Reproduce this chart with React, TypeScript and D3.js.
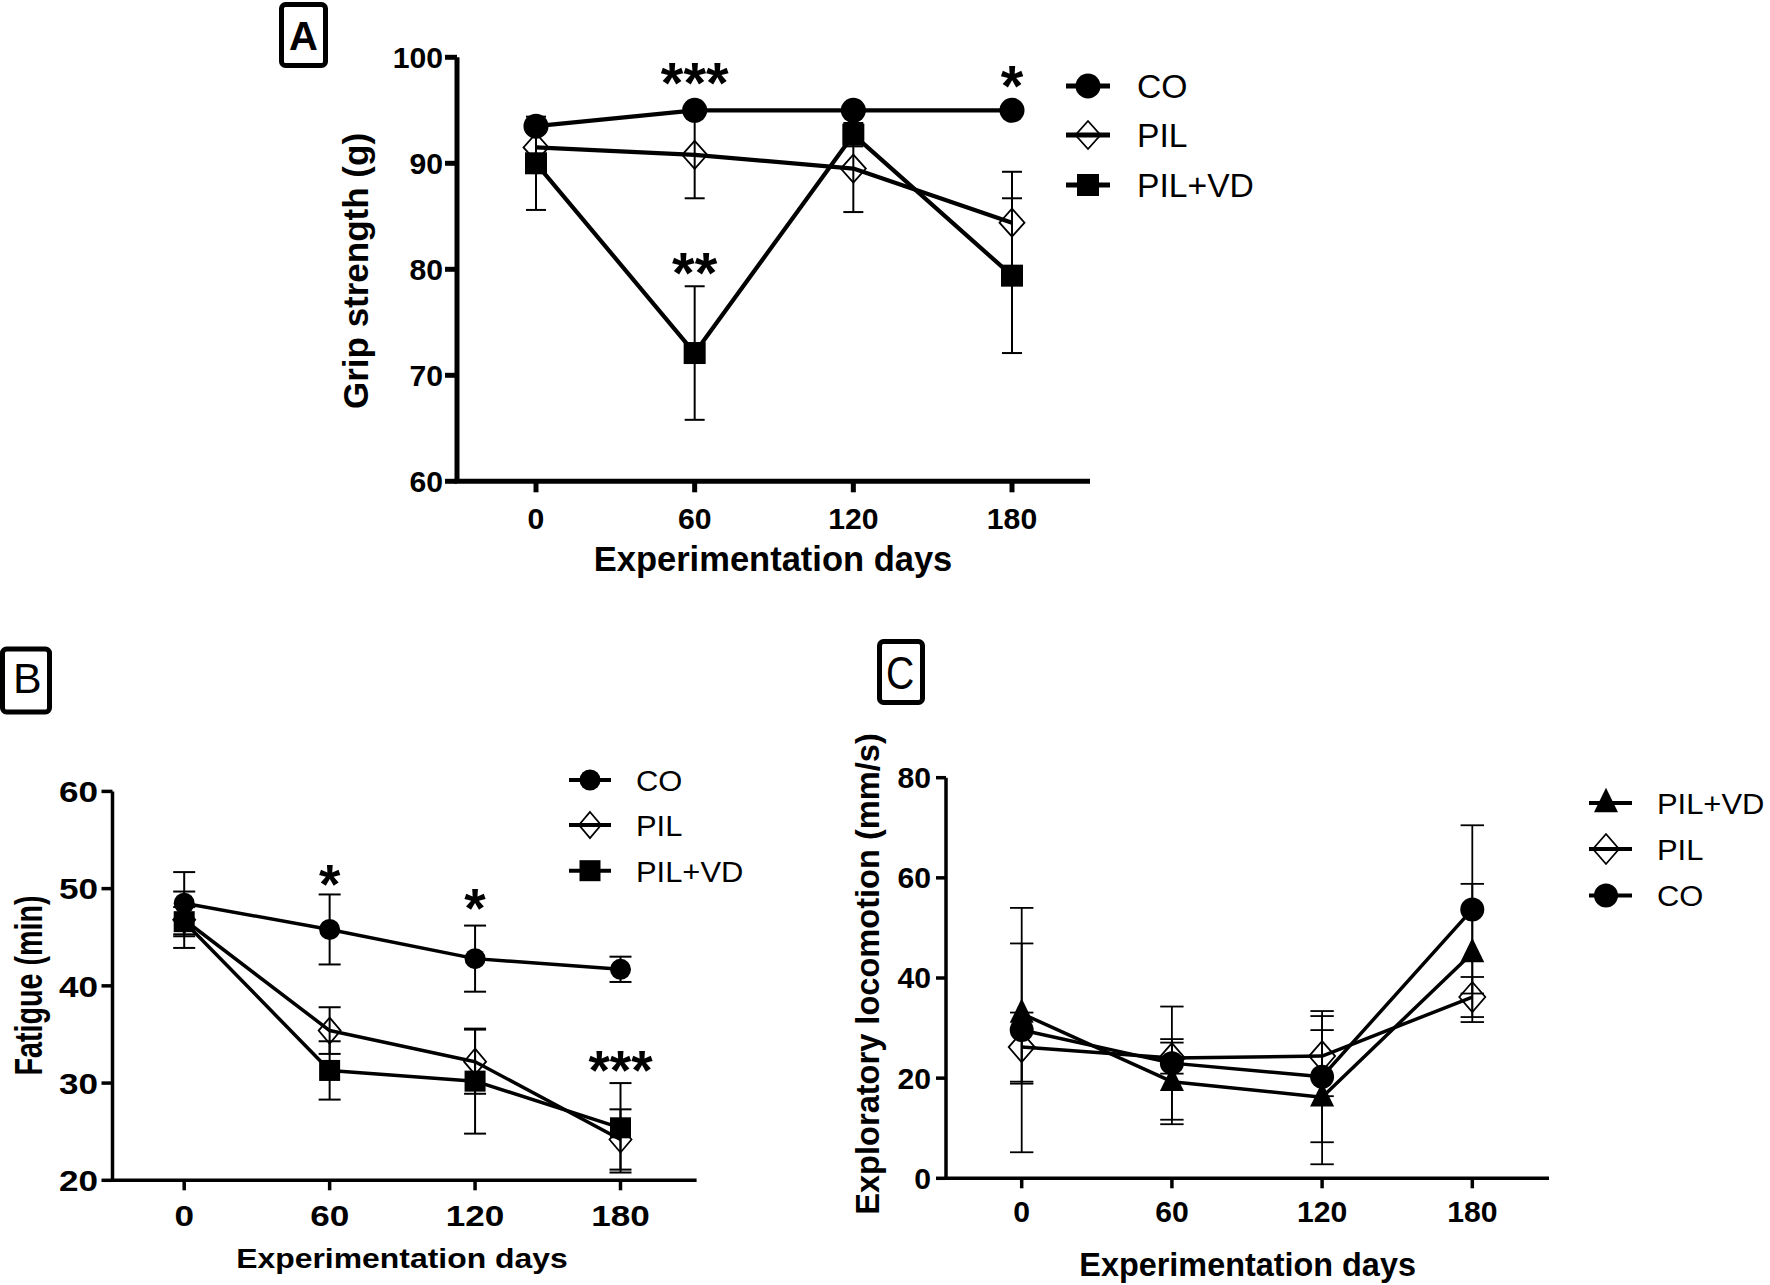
import React from "react";
import * as d3 from "d3";

// ---------- DATA ----------
const days = [0, 60, 120, 180];

// Panel A: Grip strength (g)
const gripTicks = [60, 70, 80, 90, 100];
const gripCO = [93.5, 95.0, 95.0, 95.0];
const gripCOErr = [0.6, 0.5, 0.5, 0.5];
const gripPIL = [91.5, 90.8, 89.5, 84.4];
const gripPILErr = [2.0, 4.1, 4.1, 4.8];
const gripPILVD = [90.0, 72.1, 92.7, 79.4];
const gripPILVDErr = [4.4, 6.3, 1.1, 7.3];
const gripStars = [
  { day: 60, value: 98.8, text: "***" },
  { day: 180, value: 98.5, text: "*" },
  { day: 60, value: 80.8, text: "**" },
];

// Panel B: Fatigue (min)
const fatigueTicks = [20, 30, 40, 50, 60];
const fatigueCO = [48.5, 45.8, 42.8, 41.7];
const fatigueCOErr = [3.2, 3.6, 3.4, 1.3];
const fatiguePIL = [46.8, 35.4, 32.2, 24.2];
const fatiguePILErr = [2.9, 2.4, 3.3, 3.1];
const fatiguePILVD = [46.6, 31.3, 30.2, 25.4];
const fatiguePILVDErr = [1.5, 3.0, 5.4, 4.6];
const fatigueStars = [
  { day: 60, value: 51.7, text: "*" },
  { day: 120, value: 49.2, text: "*" },
  { day: 180, value: 32.6, text: "***" },
];

// Panel C: Exploratory locomotion (mm/s)
const locoTicks = [0, 20, 40, 60, 80];
const locoCO = [29.6, 23.0, 20.3, 53.7];
const locoCOErr = [24.4, 11.3, 13.1, 16.8];
const locoPIL = [26.2, 24.0, 24.4, 36.2];
const locoPILErr = [6.9, 3.1, 8.0, 4.0];
const locoPILVD = [32.9, 19.3, 16.2, 45.0];
const locoPILVDErr = [14.0, 8.5, 13.4, 13.8];

const legendAB = ["CO", "PIL", "PIL+VD"];
const legendC = ["PIL+VD", "PIL", "CO"];

// ---------- DRAWING ----------
const FONT = "'Liberation Sans', Arial, Helvetica, sans-serif";

type Shape = "circle" | "diamond" | "square" | "triangle";
interface MSize { r: number; sq: number; dw: number; dh: number; tw: number; th: number; }
interface Series { name: string; values: number[]; errs: number[]; shape: Shape; }

function T(props: {
  x: number; y: number; fs: number; sx?: number; anchor?: string; weight?: string; rot?: boolean; children: any;
}) {
  const { x, y, fs, sx = 1, anchor = "start", weight = "bold", rot = false, children } = props;
  return (
    <text
      transform={`translate(${x},${y}) scale(${sx},1)${rot ? " rotate(-90)" : ""}`}
      fontSize={fs}
      fontWeight={weight}
      textAnchor={anchor as any}
      fontFamily={FONT}
      fill="#000"
    >
      {children}
    </text>
  );
}

function Marker({ shape, cx, cy, m }: { shape: Shape; cx: number; cy: number; m: MSize }) {
  if (shape === "circle") return <circle cx={cx} cy={cy} r={m.r} fill="#000" />;
  if (shape === "square")
    return <rect x={cx - m.sq} y={cy - m.sq} width={2 * m.sq} height={2 * m.sq} fill="#000" />;
  if (shape === "diamond")
    return (
      <path
        d={`M${cx},${cy - m.dh}L${cx + m.dw},${cy}L${cx},${cy + m.dh}L${cx - m.dw},${cy}Z`}
        fill="none"
        stroke="#000"
        strokeWidth={1.8}
      />
    );
  return (
    <path
      d={`M${cx},${cy - m.th * 0.62}L${cx + m.tw / 2},${cy + m.th * 0.38}L${cx - m.tw / 2},${cy + m.th * 0.38}Z`}
      fill="#000"
    />
  );
}

interface PanelCfg {
  x0: number; x1: number; yDomain: [number, number]; yB: number; yT: number;
  axisLeft: number; axisRight: number; axisW: number; yTickLen: number; xTickLen: number;
  lineW: number; errW: number; capHW: number; m: MSize;
  yTicks: number[];
  tickFs: number; tickSx: number; yLabelRight: number; xLabelBase: number;
  series: Series[];
  stars: { day: number; value: number; text: string }[];
  starFs: number;
  legend: { names: string[]; shapes: Shape[]; rows: number[]; lx0: number; lx1: number; mx: number; tx: number; fs: number; sx: number; lw: number; m: MSize };
  xTitle: { text: string; x: number; y: number; fs: number; sx: number };
  yTitle: { text: string; x: number; y: number; fs: number; sx: number };
  box: { x: number; y: number; w: number; h: number; letter: string; lx: number; ly: number; fs: number; sx: number; weight: string };
}

function Panel({ p }: { p: PanelCfg }) {
  const x = d3.scaleLinear().domain([0, 180]).range([p.x0, p.x1]);
  const y = d3.scaleLinear().domain(p.yDomain).range([p.yB, p.yT]);
  const line = d3
    .line<number>()
    .x((_, i) => x(days[i]))
    .y((d) => y(d));
  const lg = p.legend;
  return (
    <g>
      {/* box label */}
      <rect x={p.box.x} y={p.box.y} width={p.box.w} height={p.box.h} rx={4} fill="none" stroke="#000" strokeWidth={5} />
      <T x={p.box.lx} y={p.box.ly} fs={p.box.fs} sx={p.box.sx} anchor="middle" weight={p.box.weight}>
        {p.box.letter}
      </T>

      {/* axes */}
      <line x1={p.axisLeft} y1={y(p.yDomain[1])} x2={p.axisLeft} y2={p.yB} stroke="#000" strokeWidth={p.axisW} />
      <line x1={p.axisLeft - p.axisW / 2} y1={p.yB} x2={p.axisRight} y2={p.yB} stroke="#000" strokeWidth={p.axisW} />
      {p.yTicks.map((t) => (
        <g key={"yt" + t}>
          <line x1={p.axisLeft - p.yTickLen} x2={p.axisLeft} y1={y(t)} y2={y(t)} stroke="#000" strokeWidth={p.axisW} />
          <T x={p.yLabelRight} y={y(t) + 0.36 * p.tickFs} fs={p.tickFs} sx={p.tickSx} anchor="end">
            {t}
          </T>
        </g>
      ))}
      {days.map((d) => (
        <g key={"xt" + d}>
          <line x1={x(d)} x2={x(d)} y1={p.yB} y2={p.yB + p.xTickLen} stroke="#000" strokeWidth={p.axisW} />
          <T x={x(d)} y={p.xLabelBase} fs={p.tickFs} sx={p.tickSx} anchor="middle">
            {d}
          </T>
        </g>
      ))}

      {/* titles */}
      <T x={p.xTitle.x} y={p.xTitle.y} fs={p.xTitle.fs} sx={p.xTitle.sx} anchor="middle">
        {p.xTitle.text}
      </T>
      <T x={p.yTitle.x} y={p.yTitle.y} fs={p.yTitle.fs} sx={p.yTitle.sx} anchor="middle" rot>
        {p.yTitle.text}
      </T>

      {/* series */}
      {p.series.map((s) => (
        <g key={s.name}>
          {s.values.map((v, i) => {
            const cx = x(days[i]);
            const yu = y(v + s.errs[i]);
            const yl = y(v - s.errs[i]);
            return (
              <g key={i} stroke="#000" strokeWidth={p.errW}>
                <line x1={cx} x2={cx} y1={yu} y2={yl} />
                <line x1={cx - p.capHW} x2={cx + p.capHW} y1={yu} y2={yu} />
                <line x1={cx - p.capHW} x2={cx + p.capHW} y1={yl} y2={yl} />
              </g>
            );
          })}
          <path d={line(s.values) || ""} fill="none" stroke="#000" strokeWidth={p.lineW} strokeLinejoin="round" />
          {s.values.map((v, i) => (
            <Marker key={i} shape={s.shape} cx={x(days[i])} cy={y(v)} m={p.m} />
          ))}
        </g>
      ))}

      {/* significance stars */}
      {p.stars.map((st, i) => (
        <T key={"s" + i} x={x(st.day)} y={y(st.value) + 0.56 * p.starFs} fs={p.starFs} anchor="middle">
          {st.text}
        </T>
      ))}

      {/* legend */}
      {lg.names.map((n, i) => (
        <g key={"lg" + n}>
          <line x1={lg.lx0} x2={lg.lx1} y1={lg.rows[i]} y2={lg.rows[i]} stroke="#000" strokeWidth={lg.lw} />
          <Marker shape={lg.shapes[i]} cx={lg.mx} cy={lg.rows[i]} m={lg.m} />
          <T x={lg.tx} y={lg.rows[i] + 0.36 * lg.fs} fs={lg.fs} sx={lg.sx} weight="normal">
            {n}
          </T>
        </g>
      ))}
    </g>
  );
}

export default function App() {
  const mA: MSize = { r: 12.5, sq: 11, dw: 12.5, dh: 14, tw: 24, th: 24 };
  const mB: MSize = { r: 10.5, sq: 10.5, dw: 11, dh: 13, tw: 20, th: 20 };
  const mC: MSize = { r: 12, sq: 11, dw: 13, dh: 15, tw: 24, th: 24.5 };

  const panelA: PanelCfg = {
    x0: 536, x1: 1012, yDomain: [60, 100], yB: 481.3, yT: 57.3,
    axisLeft: 457, axisRight: 1090, axisW: 5, yTickLen: 12, xTickLen: 11,
    lineW: 4.2, errW: 2, capHW: 10, m: mA,
    yTicks: gripTicks, tickFs: 29, tickSx: 1.04, yLabelRight: 443, xLabelBase: 529,
    series: [
      { name: "PIL", values: gripPIL, errs: gripPILErr, shape: "diamond" },
      { name: "PIL+VD", values: gripPILVD, errs: gripPILVDErr, shape: "square" },
      { name: "CO", values: gripCO, errs: gripCOErr, shape: "circle" },
    ],
    stars: gripStars, starFs: 58,
    legend: { names: legendAB, shapes: ["circle", "diamond", "square"], rows: [86, 135, 185], lx0: 1066, lx1: 1110, mx: 1088, tx: 1137, fs: 33, sx: 1.02, lw: 5, m: mA },
    xTitle: { text: "Experimentation days", x: 773, y: 571, fs: 34.5, sx: 1 },
    yTitle: { text: "Grip strength (g)", x: 367.6, y: 271, fs: 35, sx: 1 },
    box: { x: 281.5, y: 4.5, w: 44, h: 61, letter: "A", lx: 303.5, ly: 50, fs: 40, sx: 1, weight: "bold" },
  };

  const panelB: PanelCfg = {
    x0: 184.2, x1: 620.5, yDomain: [20, 60], yB: 1180.3, yT: 791.4,
    axisLeft: 112.5, axisRight: 696.6, axisW: 3.5, yTickLen: 11, xTickLen: 10,
    lineW: 3.5, errW: 2, capHW: 11, m: mB,
    yTicks: fatigueTicks, tickFs: 30, tickSx: 1.17, yLabelRight: 98, xLabelBase: 1226,
    series: [
      { name: "PIL", values: fatiguePIL, errs: fatiguePILErr, shape: "diamond" },
      { name: "PIL+VD", values: fatiguePILVD, errs: fatiguePILVDErr, shape: "square" },
      { name: "CO", values: fatigueCO, errs: fatigueCOErr, shape: "circle" },
    ],
    stars: fatigueStars, starFs: 55,
    legend: { names: legendAB, shapes: ["circle", "diamond", "square"], rows: [780, 825, 870.7], lx0: 569, lx1: 611, mx: 590, tx: 636, fs: 30, sx: 1.03, lw: 4, m: { r: 10.5, sq: 10.5, dw: 11, dh: 13, tw: 22, th: 22 } },
    xTitle: { text: "Experimentation days", x: 402, y: 1268, fs: 28.5, sx: 1.12 },
    yTitle: { text: "Fatigue (min)", x: 42, y: 985.5, fs: 28.7, sx: 1.35 },
    box: { x: 2.5, y: 649, w: 47, h: 63, letter: "B", lx: 27.4, ly: 693, fs: 43, sx: 1, weight: "normal" },
  };

  const panelC: PanelCfg = {
    x0: 1021.7, x1: 1472.3, yDomain: [0, 80], yB: 1178.3, yT: 777.7,
    axisLeft: 946, axisRight: 1549, axisW: 3.5, yTickLen: 10, xTickLen: 10,
    lineW: 3.5, errW: 1.8, capHW: 11.7, m: mC,
    yTicks: locoTicks, tickFs: 29, tickSx: 1.04, yLabelRight: 931, xLabelBase: 1222,
    series: [
      { name: "PIL", values: locoPIL, errs: locoPILErr, shape: "diamond" },
      { name: "PIL+VD", values: locoPILVD, errs: locoPILVDErr, shape: "triangle" },
      { name: "CO", values: locoCO, errs: locoCOErr, shape: "circle" },
    ],
    stars: [], starFs: 50,
    legend: { names: legendC, shapes: ["triangle", "diamond", "circle"], rows: [803, 849, 895.5], lx0: 1589, lx1: 1632, mx: 1606, tx: 1657, fs: 30, sx: 1.03, lw: 4, m: mC },
    xTitle: { text: "Experimentation days", x: 1247.6, y: 1276, fs: 32.4, sx: 1 },
    yTitle: { text: "Exploratory locomotion (mm/s)", x: 878.5, y: 974, fs: 32.6, sx: 1 },
    box: { x: 879.5, y: 641.5, w: 43, h: 61, letter: "C", lx: 900, ly: 689, fs: 46, sx: 0.85, weight: "normal" },
  };

  return (
    <svg
      width={1770}
      height={1285}
      viewBox="0 0 1770 1285"
      style={{ position: "absolute", left: 0, top: 0, background: "#fff" }}
    >
      <rect x={0} y={0} width={1770} height={1285} fill="#fff" />
      <Panel p={panelA} />
      <Panel p={panelB} />
      <Panel p={panelC} />
    </svg>
  );
}
